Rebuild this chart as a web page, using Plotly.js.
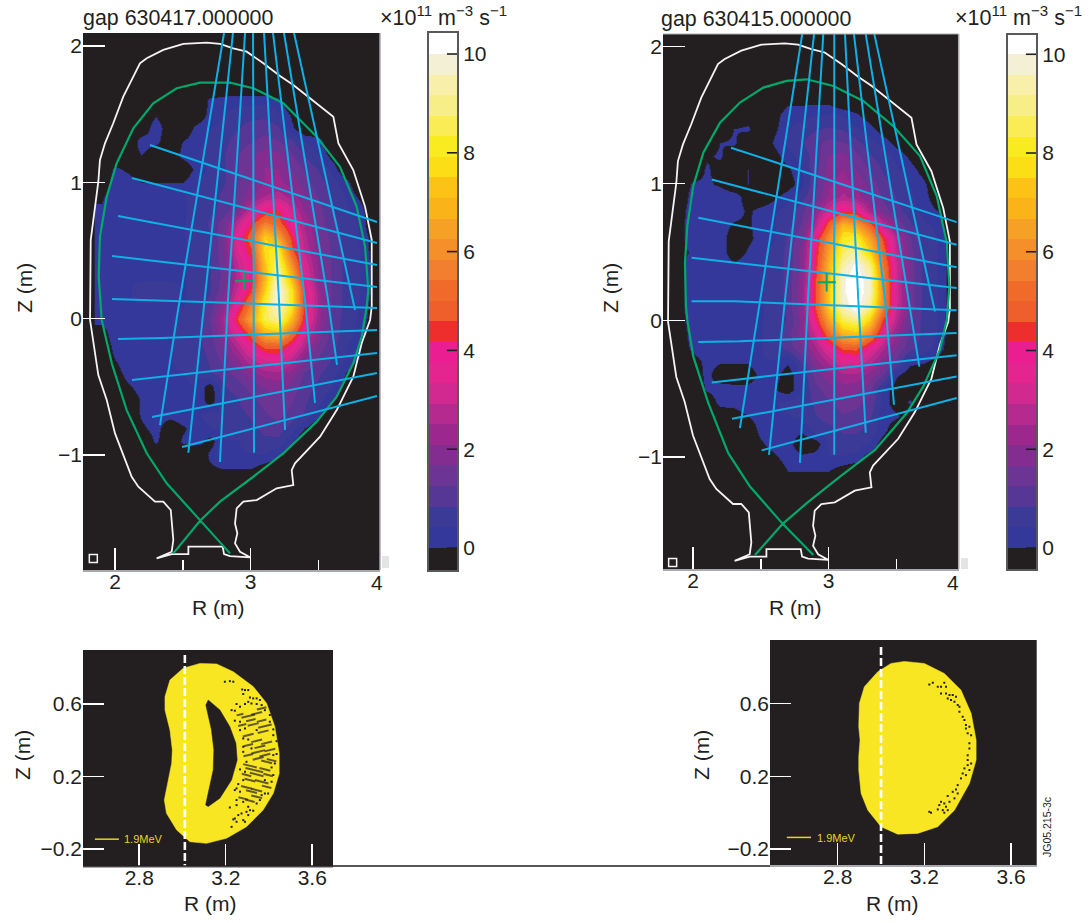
<!DOCTYPE html>
<html><head><meta charset="utf-8">
<script src="https://cdn.plot.ly/plotly-3.0.1.min.js"></script>
<style>html,body{margin:0;padding:0;background:#fff}</style></head>
<body><div id="chart" style="width:1091px;height:923px"></div>
<script>
const B = -0.5;
const gridR = [1.9,2.0,2.1,2.2,2.3,2.4,2.5,2.6,2.7,2.8,2.9,3.0,3.1,3.2,3.3,3.4,3.5,3.6,3.7,3.8,3.9];
const gridZ = [1.7,1.6,1.5,1.4,1.3,1.2,1.1,1.0,.9,.8,.7,.6,.5,.4,.3,.2,.1,0,-.1,-.2,-.3,-.4,-.5,-.6,-.7,-.8,-.9,-1.0,-1.1,-1.2];
const field630417 = [
[B,B,B,B,B,B,B,B,B,B,B,B,B,B,B,B,B,B,B,B,B],
[B,B,B,B,B,B,B,B,.1,.2,.3,.3,.3,.1,B,B,B,B,B,B,B],
[B,B,B,B,-.1,B,B,B,.2,.4,.6,.7,.7,.5,-.1,B,B,B,B,B,B],
[B,B,B,B,.4,B,B,.2,.4,.6,.8,1,1.1,.9,.1,B,B,B,B,B,B],
[B,B,B,.3,.2,B,0,.3,.5,.7,1,1.2,1.4,1.3,.9,.4,.2,B,B,B,B],
[B,B,-.2,0,B,B,.2,.4,.6,.8,1.2,1.6,1.9,1.8,1.3,.8,.4,-.2,B,B,B],
[B,.1,-.1,B,B,B,B,.2,.5,.8,1.2,1.7,2.1,2.1,1.6,1.2,.8,.3,B,B,B],
[B,.3,.2,0,0,0,0,.4,.6,.8,1.2,1.7,2.1,2.2,1.9,1.4,1,.6,.2,B,B],
[-.1,.4,.4,.4,.4,.4,.4,.5,.7,.9,1.3,1.9,2.5,2.7,2.3,1.7,1.2,.8,.4,-.1,B],
[.1,.4,.4,.4,.4,.4,.4,.5,.7,1,1.6,3,4,4.2,3,2,1.4,.9,.5,.3,B],
[.3,.4,.4,.4,.4,.4,.4,.5,.9,1.5,2.8,4.2,5.6,5,3.5,2.4,1.5,1,.6,.4,B],
[.3,.4,.4,.4,.4,.4,.4,.5,.8,1.7,3.5,5,7.5,6.5,4.3,2.6,1.7,1.1,.7,.4,-.2],
[.3,.4,.4,.4,.4,.4,.4,.5,.8,1.6,3.3,4.5,7.8,8.3,4.8,2.8,1.8,1.2,.7,.5,-.2],
[.3,.4,.4,.4,.4,.4,.4,.5,.8,1.5,2.8,4,7.3,9,6,3.2,1.9,1.2,.7,.5,-.1],
[.3,.4,.4,.4,.4,.4,.4,.5,.8,1.4,2.6,3.9,7,9.7,7,3.6,2,1.2,.7,.5,-.1],
[.3,.4,.4,.5,.5,.5,.4,.5,.8,1.6,3,4.5,7.5,10.3,8,4.2,2.2,1.2,.7,.5,-.1],
[.3,.4,.4,.4,.4,.4,.4,.6,1,2,3.6,5.6,8.5,10,8,4.3,2.3,1.2,.7,.4,-.2],
[.2,.4,.4,.4,.4,.4,.5,.7,1.2,2.6,4.5,6.5,8.5,9.2,7,4,2.2,1.2,.6,.4,-.3],
[-.3,.4,.4,.4,.4,.4,.5,.7,1.1,2.2,3.5,5,7,7.4,5.4,3.2,1.9,1.1,.6,.3,B],
[B,.2,.4,.4,.4,.4,.5,.7,1,1.7,2.6,3.8,4.8,4.9,3.8,2.5,1.5,1,.5,.1,B],
[B,0,.4,.4,.4,.4,.5,.6,.9,1.4,2,2.9,3.4,3.5,2.8,1.8,1.2,.8,.4,0,B],
[B,-.3,.3,.4,.4,.4,.4,.5,.8,1.1,1.4,1.9,2.3,2.4,1.9,1.2,.9,.6,0,B,B],
[B,B,-.1,.3,.4,.4,.4,.4,-.3,.8,1,1.4,1.7,1.8,1.5,1,.7,.4,-.2,B,B],
[B,B,B,.1,.4,.4,.4,.4,-.3,.6,.8,1.1,1.4,1.6,1.3,.9,.6,.1,B,B,B],
[B,B,B,.1,.3,.2,.4,.4,.5,.6,.7,.9,1.2,1.4,1.1,.8,.1,B,B,B,B],
[B,B,B,-.1,.2,-.4,-.1,.3,.4,.5,.6,.7,1,1.1,.6,0,B,B,B,B,B],
[B,B,B,B,.1,B,.1,.2,-.2,.4,.4,.5,.7,.7,.1,B,B,B,B,B,B],
[B,B,B,B,B,B,B,B,.1,.4,.4,.4,.4,.1,B,B,B,B,B,B,B],
[B,B,B,B,B,B,B,B,-.1,0,0,0,-.3,B,B,B,B,B,B,B,B],
[B,B,B,B,B,B,B,B,B,B,B,B,B,B,B,B,B,B,B,B,B]];
const field630415 = [
[B,B,B,B,B,B,B,B,B,B,B,B,B,B,B,B,B,B,B,B,B],
[B,B,B,B,B,B,B,B,-.1,-.1,-.1,-.1,B,B,B,B,B,B,B,B,B],
[B,B,B,B,B,-.3,B,-.2,.3,.3,.4,.5,.4,.1,-.3,B,B,B,B,B,B],
[B,B,B,B,0,.1,B,-.1,.4,.6,.8,.9,.8,.5,.2,-.3,B,B,B,B,B],
[B,B,B,0,.1,B,B,.1,.5,.8,1.1,1.4,1.3,1,.6,.3,-.2,B,B,B,B],
[B,B,-.1,.1,B,B,B,-.2,.3,.6,1,1.7,1.8,1.4,.9,.6,.3,-.1,B,B,B],
[B,B,.1,-.3,B,0,B,B,-.1,.4,1.1,1.9,2.1,1.7,1.2,.8,.5,.2,-.2,B,B],
[B,.1,.1,-.1,B,0,B,B,-.3,.3,1.1,2,2.3,2,1.5,1,.7,.4,.1,B,B],
[B,.3,.4,.4,.3,-.3,B,-.1,.3,.7,1.3,2.2,2.6,2.3,1.7,1.2,.8,.5,.2,-.4,B],
[-.3,.4,.4,.4,.3,-.1,.2,.4,.6,1.1,2,3.2,4.2,4,2.4,1.5,1,.6,.3,0,B],
[-.2,.4,.4,.4,-.1,-.1,.3,.4,.7,1.3,2.6,5,7,6.5,5,3,1.6,.9,.5,.3,B],
[-.2,.4,.4,.4,B,-.2,.3,.4,.9,1.6,3.8,6,8,8.3,6.5,4.5,2.6,1.3,.7,.4,-.3],
[-.2,.1,.1,.4,B,.1,.4,.5,1,1.8,4,6.5,8.7,9.3,7.5,5,2.8,1.4,.7,.4,-.2],
[-.2,.4,.4,.4,.2,.4,.4,.5,1,1.8,4.2,7,9.4,10.2,9,5.5,3,1.5,.7,.4,-.2],
[-.2,.4,.4,.4,.4,.4,.4,.5,1,1.9,4.4,7.2,9.9,10.4,9.6,5.8,3,1.5,.7,.4,-.2],
[-.2,.4,.4,.4,.4,.4,.4,.5,1,2,4.5,7.4,9.9,10.4,9.6,6,3.1,1.5,.7,.4,-.2],
[-.2,.4,.4,.4,.4,.4,.4,.5,1,2,4.5,7.5,9.6,10.4,9,5.8,3,1.5,.7,.4,-.2],
[-.3,.4,.4,.4,.4,.4,.4,.5,.9,1.8,3.9,6.5,8.5,9,7.5,4.5,2.6,1.3,.7,.4,-.3],
[B,.4,.4,.4,.4,.4,.4,.7,1.1,1.9,3,5.2,6.8,7.2,5.8,3.5,2,1.2,.7,.4,-.3],
[B,.2,.4,.4,.4,.4,.4,.6,1,1.6,2.4,3.5,4.7,4.8,3.6,2.6,1.6,1,.6,.3,-.4],
[B,-.3,.2,.1,.1,.1,.4,.4,.1,.9,1.9,2.6,3.4,3.5,2.7,1.9,1.2,.2,.1,-.2,B],
[B,B,.2,-.4,-.4,-.4,.2,.2,-.3,.5,1.4,1.9,2.4,2.4,1.9,1.3,.1,-.4,B,B,B],
[B,B,.1,.3,.2,.2,.4,0,-.3,.4,1.1,1.5,1.9,1.8,1.4,.3,-.4,B,B,B,B],
[B,B,B,.2,.2,.4,.4,.4,.5,.6,.9,1.2,1.5,1.4,1.1,.3,-.4,.1,B,B,B],
[B,B,B,-.4,-.3,0,.3,.4,.4,.5,.8,1,1.2,1.1,.9,.3,.1,B,B,B,B],
[B,B,B,B,B,B,.2,.4,.3,.1,.6,.7,.9,.9,.7,.2,B,B,B,B,B],
[B,B,B,B,B,B,-.1,.3,.2,-.4,-.3,.5,.6,.6,.4,-.3,B,B,B,B,B],
[B,B,B,B,B,B,B,-.1,.3,.1,.2,.4,.4,.3,-.3,B,B,B,B,B,B],
[B,B,B,B,B,B,B,B,0,0,0,0,-.3,B,B,B,B,B,B,B,B],
[B,B,B,B,B,B,B,B,B,B,B,B,B,B,B,B,B,B,B,B,B]];
const bandColors = ['#33389a','#3b3a96','#573796','#6c3493','#842d90','#9c288d','#b52a8e','#d1298f','#e4258f','#ea1e90','#ee2d2d','#ee5f2b','#f06a2a','#f27f2e','#f48f2a','#f6a125','#fbb31a','#fcc316','#fcde16','#f8eb1f','#f9ec55','#f8ee88','#f7efaa','#f3f0d5'];
const wallR = [2.676,2.774,2.872,2.971,3.094,3.217,3.315,3.438,3.610,3.647,3.757,3.844,3.893,3.893,3.881,3.819,3.757,3.635,3.512,3.327,3.303,3.315,3.192,3.045,2.946,2.897,2.885,2.902,2.885,2.922,2.996,2.848,2.804,2.794,2.541,2.541,2.418,2.307,2.418,2.430,2.411,2.356,2.295,2.172,2.123,2.0,1.939,1.877,1.841,1.816,1.821,1.877,1.889,1.926,1.987,2.061,2.184,2.234,2.356,2.504,2.676];
const wallZ = [2.024,2.015,1.983,1.958,1.873,1.780,1.714,1.616,1.481,1.286,1.090,0.821,0.577,0.087,-0.010,-0.181,-0.426,-0.671,-0.866,-1.062,-1.111,-1.221,-1.245,-1.331,-1.343,-1.392,-1.502,-1.575,-1.649,-1.710,-1.751,-1.742,-1.727,-1.673,-1.673,-1.727,-1.727,-1.759,-1.710,-1.624,-1.404,-1.343,-1.343,-1.233,-1.160,-0.842,-0.597,-0.414,-0.181,-0.010,0.577,1.004,1.164,1.286,1.433,1.628,1.873,1.910,1.971,2.015,2.024];
const sepR417 = [2.430,2.627,2.774,3.020,3.241,3.487,3.635,3.757,3.819,3.856,3.868,3.844,3.782,3.659,3.487,3.241,3.020,2.848,2.627,2.455,2.282,2.135,2.012,1.939,1.889,1.880,1.902,1.976,2.086,2.234,2.381,2.627,2.848];
const sepZ417 = [-1.722,-1.483,-1.343,-1.160,-0.988,-0.756,-0.573,-0.328,-0.133,0.087,0.210,0.528,0.821,1.114,1.335,1.580,1.690,1.731,1.731,1.690,1.580,1.396,1.139,0.894,0.601,0.307,-0.010,-0.328,-0.671,-0.988,-1.208,-1.483,-1.722];
const sepR415 = [2.457,2.661,2.838,3.083,3.341,3.575,3.697,3.820,3.870,3.889,3.870,3.796,3.673,3.476,3.255,3.034,2.838,2.690,2.518,2.346,2.199,2.076,2.002,1.958,1.941,1.948,1.958,2.002,2.113,2.260,2.420,2.661,2.887];
const sepZ415 = [-1.715,-1.488,-1.337,-1.142,-0.947,-0.678,-0.483,-0.214,0.005,0.249,0.567,0.908,1.201,1.420,1.603,1.713,1.762,1.750,1.701,1.592,1.445,1.225,0.981,0.688,0.420,0.102,0.005,-0.264,-0.605,-0.971,-1.215,-1.488,-1.715];
const chordR417 = [2.804,2.465,2.332,null,2.870,2.664,2.541,null,2.959,2.833,2.774,null,3.018,3.025,3.025,null,3.099,3.209,3.254,null,3.165,3.401,3.475,null,3.246,3.571,3.637,null,3.320,3.770,null,
 2.258,3.932,null,2.125,3.932,null,2.022,3.932,null,1.978,3.932,null,1.978,3.932,null,2.022,2.347,3.932,null,2.125,3.932,null,2.273,3.932,null,2.494,3.932];
const chordZ417 = [2.095,0.063,-0.781,null,2.095,0.136,-0.984,null,2.095,0.136,-1.052,null,2.095,0.136,-0.984,null,2.095,0.136,-0.817,null,2.095,0.136,-0.619,null,2.095,0.136,-0.340,null,2.095,0.063,null,
 1.274,0.709,null,1.032,0.555,null,0.753,0.393,null,0.459,0.232,null,0.144,0.078,null,-0.150,-0.142,-0.084,null,-0.450,-0.252,null,-0.722,-0.399,null,-0.942,-0.568];
const chordR415 = [2.805,2.494,2.346,null,2.892,2.678,2.560,null,2.960,2.847,2.788,null,3.041,3.041,3.041,null,3.120,3.218,3.273,null,3.186,3.415,3.481,null,3.273,3.584,3.668,null,3.336,3.759,3.783,null,
 2.280,3.943,null,2.138,3.943,null,2.039,3.943,null,1.990,3.943,null,1.990,2.309,3.943,null,2.039,2.346,3.943,null,2.138,3.943,null,2.287,3.943,null,2.506,3.943];
const chordZ415 = [2.092,0.152,-0.788,null,2.092,0.152,-0.983,null,2.092,0.152,-1.042,null,2.092,0.152,-0.983,null,2.092,0.152,-0.822,null,2.092,0.152,-0.617,null,2.092,0.152,-0.339,null,2.092,0.152,0.064,null,
 1.262,0.718,null,1.030,0.552,null,0.749,0.388,null,0.457,0.237,null,0.139,0.139,0.073,null,-0.158,-0.153,-0.092,null,-0.454,-0.256,null,-0.720,-0.411,null,-0.951,-0.568];
const orbitOuterR417 = [3.081,3.158,3.235,3.327,3.389,3.427,3.447,3.447,3.420,3.373,3.296,3.204,3.111,3.034,2.973,2.926,2.916,2.934,2.950,2.953,2.942,2.919,2.919,2.942,3.003,3.081];
const orbitOuterZ417 = [0.824,0.821,0.778,0.696,0.604,0.475,0.328,0.217,0.107,0.015,-0.077,-0.141,-0.169,-0.160,-0.095,-0.003,0.070,0.181,0.273,0.346,0.457,0.567,0.640,0.732,0.797,0.824];
const orbitHoleR417 = [3.119,3.173,3.219,3.247,3.253,3.227,3.173,3.119,3.107,3.127,3.142,3.145,3.134,3.108,3.119];
const orbitHoleZ417 = [0.622,0.567,0.475,0.383,0.291,0.181,0.080,0.034,0.043,0.144,0.236,0.346,0.457,0.594,0.622];
const orbitOuterR415 = [3.108,3.200,3.292,3.369,3.416,3.439,3.439,3.408,3.339,3.262,3.169,3.077,3.000,2.939,2.908,2.897,2.897,2.903,2.897,2.900,2.923,2.985,3.046,3.108];
const orbitOuterZ415 = [0.833,0.822,0.767,0.675,0.547,0.400,0.290,0.161,0.014,-0.077,-0.114,-0.118,-0.077,0.014,0.106,0.235,0.308,0.400,0.473,0.602,0.694,0.776,0.822,0.833];
const lostR417 = [3.196,3.219,3.235,3.276,3.289,3.304,3.281,3.312,3.327,3.343,3.358,3.304,3.319,3.343,3.366,3.250,3.266,3.289,3.381,3.227,3.242,3.404,3.242,3.266,3.404,3.420,3.266,3.289,3.343,3.420,3.281,3.304,3.435,3.281,3.319,3.420,3.435,3.281,3.296,3.266,3.427,3.412,3.289,3.420,3.281,3.381,3.412,3.258,3.250,3.381,3.396,3.242,3.266,3.366,3.250,3.281,3.358,3.250,3.304,3.343,3.312,3.296,3.327,3.219,3.258,3.273,3.304,3.242,3.235,3.281,3.250,3.289,3.227];
const lostZ417 = [.723,.726,.723,.680,.677,.677,.655,.636,.631,.631,.622,.612,.603,.600,.594,.600,.585,.600,.566,.566,.563,.539,.508,.502,.502,.460,.456,.465,.456,.428,.410,.404,.395,.364,.355,.318,.324,.336,.281,.239,.272,.250,.226,.208,.180,.180,.171,.158,.134,.106,.106,.125,.116,.097,.070,.060,.070,.042,.033,.051,.014,.005,.011,.029,-.013,-.004,-.013,-.032,-.037,-.041,-.050,-.050,-.078];
const streakUpR417 = [3.304,3.343,3.366,3.266,3.316,3.366,3.276,3.327,3.381,3.373,3.304,3.343,3.389,3.358,3.304,3.404,3.350,3.304,3.381,3.350];
const streakUpZ417 = [.533,.548,.576,.542,.511,.508,.484,.487,.478,.447,.428,.397,.386,.364,.373,.346,.336,.318,.318,.300];
const streakUpLen417 = [10,8,7,5,7,7,6,8,10,8,8,8,8,8,7,8,10,7,8,8];
const streakLowR417 = [3.412,3.312,3.389,3.332,3.381,3.296,3.343,3.396,3.312,3.366,3.296,3.343,3.389,3.319,3.281,3.343,3.312];
const streakLowZ417 = [.290,.259,.281,.235,.239,.208,.211,.208,.180,.171,.140,.125,.143,.116,.079,.088,.066];
const streakLowLen417 = [7,10,8,13,8,7,10,7,8,10,8,8,7,8,7,8,7];
const lostR415 = [3.223,3.239,3.262,3.277,3.292,3.300,3.277,3.300,3.316,3.331,3.308,3.323,3.346,3.339,3.354,3.362,3.362,3.377,3.385,3.392,3.408,3.392,3.400,3.416,3.408,3.408,3.400,3.400,3.416,3.400,3.385,3.408,3.377,3.392,3.369,3.354,3.346,3.331,3.354,3.308,3.339,3.316,3.277,3.292,3.269,3.300,3.262,3.285,3.308,3.223,3.231,3.292];
const lostZ415 = [.706,.716,.694,.694,.716,.694,.657,.657,.648,.648,.629,.620,.639,.611,.593,.583,.556,.528,.510,.483,.473,.464,.437,.427,.382,.354,.317,.290,.271,.262,.244,.235,.216,.207,.189,.152,.128,.115,.106,.092,.079,.060,.060,.051,.042,.033,.018,.014,.014,.005,0,0];
const legendR417 = [2.595,2.706], legendZ417 = [-.146,-.146];
const legendR415 = [2.565,2.677], legendZ415 = [-.136,-.136];
const axisR417 = [3.011,3.011], axisZ417 = [.870,-.294];
const axisR415 = [3.0,3.0], axisZ415 = [.912,-.288];
const tickR = [2,3], minorR = [2.5,3.5], tickZ = [-1,0,1,2], tickZText = ['\u22121','0','1','2'];
const orbitTickR = [2.8,3.2,3.6], orbitTickZ = [-.2,.2,.6], orbitTickZText = ['\u22120.2','0.2','0.6'];
const cbarTicks = [0,2,4,6,8,10];
const cbarBands = [-.625,-.208,.208,.625,1.042,1.458,1.875,2.292,2.708,3.125,3.542,3.958,4.375,4.792,5.208,5.625,6.042,6.458,6.875,7.292,7.708,8.125,8.542,8.958,9.375,9.792,10.208,10.625];

const W = 1091, H = 923, DARK = '#231f20', FONT = '"Liberation Sans", Arial, sans-serif';
const px = x => x / W, py = y => 1 - y / H;
function scale(lo, hi) {
  const span = hi - lo, s = [], n = bandColors.length;
  const at = v => (v - lo) / span;
  s.push([0, DARK], [at(0), DARK]);
  bandColors.forEach((c, k) => { s.push([at(k * 10 / n), c], [at((k + 1) * 10 / n), c]); });
  s.push([at(10), '#ffffff'], [1, '#ffffff']);
  return s;
}
function heat(field, xa, ya, lo, hi) {
  return { type: 'heatmap', x: gridR, y: gridZ.slice().reverse(), z: field.slice().reverse(), xaxis: xa, yaxis: ya,
    zmin: lo, zmax: hi, zsmooth: 'best', colorscale: scale(lo, hi), hoverinfo: 'skip', showscale: false };
}
function bar(xa, ya, lo, hi) {
  return { type: 'heatmap', x: [0], y: cbarBands, z: cbarBands.map(v => [v]), xaxis: xa, yaxis: ya, zmin: lo, zmax: hi,
    zsmooth: false, colorscale: scale(lo, hi), hoverinfo: 'skip', showscale: false };
}
function barTicks(xa, ya) {
  const x = [], y = [];
  cbarTicks.forEach(v => { x.push(.14, .5, null); y.push(v, v, null); });
  return { type: 'scatter', mode: 'lines', x, y, xaxis: xa, yaxis: ya, hoverinfo: 'skip', showlegend: false, line: { color: DARK, width: 1.6 } };
}
function line(x, y, xa, ya, color, width, dash) {
  return { type: 'scatter', mode: 'lines', x, y, xaxis: xa, yaxis: ya, hoverinfo: 'skip', connectgaps: false, showlegend: false,
    line: { color, width, dash: dash || 'solid', shape: 'linear' } };
}
function mark(x, y, xa, ya, symbol, size, color, lw) {
  return { type: 'scatter', mode: 'markers', x, y, xaxis: xa, yaxis: ya, hoverinfo: 'skip', showlegend: false,
    marker: { symbol, size, color, line: { width: lw || 0, color } } };
}
function streaks(x, y, sizes, angle, xa, ya) {
  return { type: 'scatter', mode: 'markers', x, y, xaxis: xa, yaxis: ya, hoverinfo: 'skip', showlegend: false,
    marker: { symbol: 'line-ew', size: sizes, angle, color: DARK, line: { width: 2, color: DARK } } };
}
function fill(x, y, xa, ya, color) {
  return { type: 'scatter', mode: 'lines', x, y, xaxis: xa, yaxis: ya, fill: 'toself', fillcolor: color, hoverinfo: 'skip', showlegend: false, line: { color, width: 0.5 } };
}

const CYAN = '#0fb0e6', GREEN = '#00a86b', YELLOW = '#f9e622', WHITE = '#f4f4f4';
const data = [
  heat(field630417, 'x', 'y', -0.445, 10.425),
  line(wallR, wallZ, 'x', 'y', WHITE, 1.8), line(sepR417, sepZ417, 'x', 'y', GREEN, 2.2), line(chordR417, chordZ417, 'x', 'y', CYAN, 2),
  mark([2.951], [.276], 'x', 'y', 'cross-thin', 13, GREEN, 2), mark([1.84], [-1.76], 'x', 'y', 'square-open', 8, WHITE, 1.5),
  heat(field630415, 'x2', 'y2', -0.425, 10.39),
  line(wallR, wallZ, 'x2', 'y2', WHITE, 1.8), line(sepR415, sepZ415, 'x2', 'y2', GREEN, 2.2), line(chordR415, chordZ415, 'x2', 'y2', CYAN, 2),
  mark([2.985], [.278], 'x2', 'y2', 'cross-thin', 13, GREEN, 2), mark([1.85], [-1.77], 'x2', 'y2', 'square-open', 8, WHITE, 1.5),
  fill(orbitOuterR417, orbitOuterZ417, 'x3', 'y3', YELLOW), fill(orbitHoleR417, orbitHoleZ417, 'x3', 'y3', DARK),
  mark(lostR417, lostZ417, 'x3', 'y3', 'square', 2, DARK),
  streaks(streakUpR417, streakUpZ417, streakUpLen417, -14, 'x3', 'y3'), streaks(streakLowR417, streakLowZ417, streakLowLen417, 14, 'x3', 'y3'),
  line(axisR417, axisZ417, 'x3', 'y3', '#ffffff', 2.6, '8px,3px'), line(legendR417, legendZ417, 'x3', 'y3', '#e6d41e', 1.5),
  fill(orbitOuterR415, orbitOuterZ415, 'x4', 'y4', YELLOW),
  mark(lostR415, lostZ415, 'x4', 'y4', 'square', 2, DARK),
  line(axisR415, axisZ415, 'x4', 'y4', '#ffffff', 2.6, '8px,3px'), line(legendR415, legendZ415, 'x4', 'y4', '#e6d41e', 1.5),
  bar('x5', 'y5', -0.445, 10.425), barTicks('x5', 'y5'), bar('x6', 'y6', -0.425, 10.39), barTicks('x6', 'y6')
];
function xAxis(l, r, range, vals, texts, minor, anchor, len, labelSize) {
  const a = { domain: [px(l), px(r)], range, anchor, tickmode: 'array', tickvals: vals, ticktext: texts, ticks: 'inside', ticklen: len, tickcolor: '#ffffff', tickwidth: 1.5,
    ticklabelstandoff: -8, showgrid: false, zeroline: false, showline: true, linecolor: '#a7a9ac', linewidth: 1.5, tickfont: { family: FONT, size: labelSize, color: DARK }, fixedrange: true };
  if (minor) a.minor = { tickmode: 'array', tickvals: minor, ticks: 'inside', ticklen: 10, tickcolor: '#ffffff', tickwidth: 1.5, showgrid: false };
  return a;
}
function yAxis(top, bottom, range, vals, texts, anchor, len, labelSize) {
  return { domain: [py(bottom), py(top)], range, anchor, tickmode: 'array', tickvals: vals, ticktext: texts, ticks: 'inside', ticklen: len, tickcolor: '#ffffff', tickwidth: 1.5,
    showgrid: false, zeroline: false, showline: false, tickfont: { family: FONT, size: labelSize, color: DARK }, fixedrange: true };
}
function barX(l, r, anchor) {
  return { domain: [px(l), px(r)], range: [-.5, .5], anchor, showticklabels: false, ticks: '', showgrid: false, zeroline: false,
    showline: true, mirror: true, linecolor: '#58595b', linewidth: 2, fixedrange: true };
}
function barY(top, bottom, lo, hi, anchor) {
  return { domain: [py(bottom), py(top)], range: [lo, hi], anchor, side: 'right', tickmode: 'array', tickvals: cbarTicks, ticktext: cbarTicks.map(String),
    ticks: '', showgrid: false, zeroline: false, showline: true, mirror: true, linecolor: '#58595b', linewidth: 2,
    tickfont: { family: FONT, size: 21, color: DARK }, fixedrange: true };
}
function note(x, y, text, opts) {
  return Object.assign({ xref: 'paper', yref: 'paper', x: px(x), y: py(y), text, showarrow: false, xanchor: 'center', yanchor: 'middle',
    font: { family: FONT, size: 21, color: DARK } }, opts || {});
}
const cbTitle = '\u00d710<sup>11</sup> m<sup>\u22123</sup> s<sup>\u22121</sup>';
const layout = {
  width: W, height: H, margin: { l: 0, r: 0, t: 0, b: 0 }, paper_bgcolor: '#ffffff', plot_bgcolor: DARK, showlegend: false,
  xaxis: xAxis(83, 380, [1.764, 3.954], tickR, ['2', '3'], minorR, 'y', 22, 21),
  yaxis: yAxis(33, 570, [-1.844, 2.095], tickZ, tickZText, 'x', 22, 21),
  xaxis2: xAxis(663, 958.7, [1.779, 3.958], tickR, ['2', '3'], minorR, 'y2', 22, 21),
  yaxis2: yAxis(34, 569, [-1.818, 2.093], tickZ, tickZText, 'x2', 22, 21),
  xaxis3: xAxis(83, 333, [2.54, 3.696], orbitTickR, orbitTickR.map(String), null, 'y3', 22, 21),
  yaxis3: yAxis(650, 866, [-.294, .898], orbitTickZ, orbitTickZText, 'x3', 21, 21),
  xaxis4: xAxis(770, 1036.7, [2.4874, 3.7187], orbitTickR, orbitTickR.map(String), null, 'y4', 22, 21),
  yaxis4: yAxis(640, 865, [-.288, .951], orbitTickZ, orbitTickZText, 'x4', 21, 21),
  xaxis5: barX(429, 457, 'y5'),
  yaxis5: barY(33, 570, -0.445, 10.425, 'x5'),
  xaxis6: barX(1008, 1036, 'y6'),
  yaxis6: barY(35, 569, -0.425, 10.39, 'x6'),
  shapes: [
    { type: 'line', xref: 'paper', yref: 'paper', x0: px(83), x1: px(770), y0: py(866), y1: py(866), line: { color: DARK, width: 1.5 } },
    { type: 'line', xref: 'paper', yref: 'paper', x0: px(380), x1: px(380), y0: py(33), y1: py(570), line: { color: '#a7a9ac', width: 1.5 } },
    { type: 'line', xref: 'paper', yref: 'paper', x0: px(958.7), x1: px(958.7), y0: py(34), y1: py(569), line: { color: '#a7a9ac', width: 1.5 } },
    { type: 'line', xref: 'paper', yref: 'paper', x0: px(663), x1: px(958.7), y0: py(34), y1: py(34), line: { color: '#a7a9ac', width: 1 } },
    { type: 'rect', xref: 'paper', yref: 'paper', x0: px(382), x1: px(389), y0: py(556), y1: py(568), line: { width: 0 }, fillcolor: '#e3e4e6' },
    { type: 'rect', xref: 'paper', yref: 'paper', x0: px(961), x1: px(968), y0: py(558), y1: py(569), line: { width: 0 }, fillcolor: '#e3e4e6' }
  ],
  annotations: [
    note(81, 18, 'gap 630417.000000', { xanchor: 'left', font: { family: FONT, size: 21.4, color: DARK } }),
    note(659, 19, 'gap 630415.000000', { xanchor: 'left', font: { family: FONT, size: 21.4, color: DARK } }),
    note(443, 16, cbTitle, { font: { family: FONT, size: 21.5, color: DARK } }),
    note(1018, 16, cbTitle, { font: { family: FONT, size: 21.5, color: DARK } }),
    note(377, 582, '4'),
    note(953, 582, '4'),
    note(218, 607, 'R (m)'), note(795, 607, 'R (m)'), note(210, 903, 'R (m)'), note(892, 903, 'R (m)'),
    note(24, 288, 'Z (m)', { textangle: -90 }), note(610, 288, 'Z (m)', { textangle: -90 }),
    note(22, 755, 'Z (m)', { textangle: -90 }), note(701, 755, 'Z (m)', { textangle: -90 }),
    note(122, 839, '1.9MeV', { xanchor: 'left', font: { family: FONT, size: 11, color: '#e6d41e' } }),
    note(815, 838, '1.9MeV', { xanchor: 'left', font: { family: FONT, size: 11, color: '#e6d41e' } }),
    note(1047, 827, 'JG05.215-3c', { textangle: -90, font: { family: FONT, size: 10.5, color: DARK } })
  ]
};
Plotly.newPlot('chart', data, layout, { displayModeBar: false, staticPlot: true });
</script></body></html>
